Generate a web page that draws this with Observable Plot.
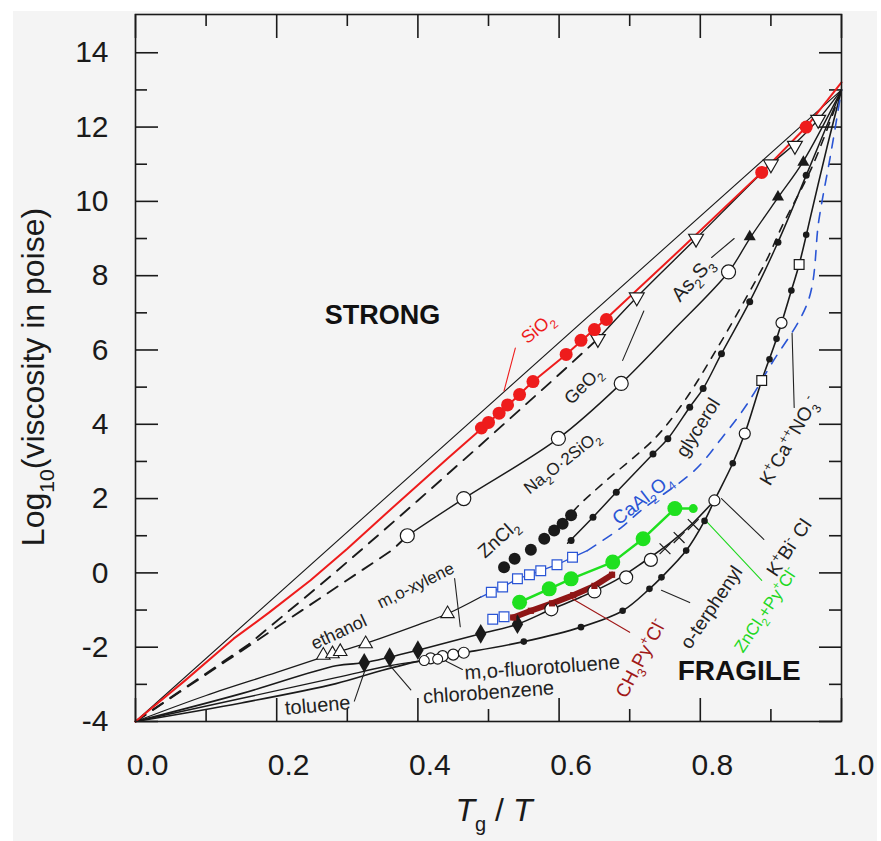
<!DOCTYPE html>
<html><head><meta charset="utf-8">
<script src="https://cdn.jsdelivr.net/npm/d3@7"></script>
<script src="https://cdn.jsdelivr.net/npm/@observablehq/plot@0.6"></script>
<style>
body{margin:0;background:#fff;}
#wrap{position:relative;width:881px;height:841px;overflow:hidden;}
#bg{position:absolute;left:13px;top:11px;width:864px;height:830px;background:#f4f4f4;}
#chart{position:absolute;left:0;top:0;}
</style></head><body>
<div id="wrap"><div id="bg"></div><div id="chart"></div></div>
<script>
// ---- axis ticks ----
const xMajor = [0, 0.2, 0.4, 0.6, 0.8, 1.0];
const xMinor = [0.1, 0.3, 0.5, 0.7, 0.9];
const yMajor = [-4, -2, 0, 2, 4, 6, 8, 10, 12, 14];
const yMinor = [-3, -1, 1, 3, 5, 7, 9, 11, 13];

// ---- series (Tg/T, log10 viscosity) ----
const arrhenius = [[0,-4],[1,13]];
const sio2Line = [[0,-4],[0.07,-2.9],[0.139,-1.77],[0.189,-1.07],[0.248,-0.2],[0.3,0.65],[0.355,1.6],[0.442,3.08],[0.49,3.88],[0.527,4.5],[0.563,5.15],[0.61,5.88],[0.667,6.85],[0.78,8.85],[0.887,10.78],[0.95,12.0],[1,13.2]];
const sio2Pts = [[0.49,3.9],[0.50,4.05],[0.515,4.3],[0.527,4.52],[0.544,4.8],[0.563,5.15],[0.61,5.88],[0.631,6.26],[0.65,6.55],[0.667,6.82],[0.887,10.78],[0.95,12.0]];
const geo2Dash = [[0,-4],[0.16,-1.93],[0.282,0.0],[0.355,1.2],[0.4,1.95],[0.485,3.38],[0.593,5.22],[0.655,6.3]];
const geo2Line = [[0.655,6.3],[0.71,7.42],[0.794,9.0],[0.9,11.0],[0.934,11.55],[0.967,12.2],[1,13]];
const geo2Pts = [[0.655,6.3],[0.71,7.42],[0.794,9.0],[0.9,11.0],[0.934,11.5],[0.967,12.2]];
const na2oDash = [[0,-4],[0.128,-2.38],[0.282,-0.42],[0.364,0.62],[0.385,1.0]];
const na2oLine = [[0.385,1.0],[0.465,2.0],[0.599,3.62],[0.688,5.1],[0.76,6.5],[0.84,8.1],[0.87,9.0],[0.91,10.1],[0.945,11.05],[1,13]];
const na2oPts = [[0.385,1.0],[0.465,2.0],[0.599,3.62],[0.688,5.1],[0.84,8.1]];
const as2s3Pts = [[0.87,9.05],[0.91,10.12],[0.946,11.05]];
const zncl2Pts = [[0.522,0.15],[0.537,0.38],[0.56,0.62],[0.579,0.92],[0.593,1.14],[0.605,1.32],[0.617,1.55]];
const zncl2Dash = [[0.605,1.32],[0.627,1.8],[0.664,2.44],[0.737,3.65],[0.778,4.64],[0.825,6.08],[0.868,7.51],[0.896,8.5],[0.915,9.3],[0.96,11.0],[1,13]];
const glycLine = [[0.612,0.8],[0.648,1.5],[0.681,2.17],[0.733,3.2],[0.754,3.61],[0.785,4.46],[0.804,4.96],[0.83,5.9],[0.87,7.3],[0.91,8.9],[0.95,10.7],[1,13]];
const glycPts = [[0.617,0.87],[0.648,1.5],[0.681,2.17],[0.733,3.2],[0.754,3.61],[0.785,4.46],[0.804,4.96],[0.83,5.9],[0.87,7.3],[0.91,8.9],[0.95,10.7]];
const caal2o4Dash = [[0.64,0.6],[0.688,1.22],[0.716,1.68],[0.792,2.76],[0.83,3.62],[0.863,4.45],[0.9,5.6],[0.953,7.33],[0.968,9.5],[0.985,11.3],[1,13]];
const ethLine = [[0,-4],[0.1,-3.3],[0.2,-2.68],[0.279,-2.18],[0.326,-1.9],[0.4,-1.4],[0.442,-1.1],[0.489,-0.65]];
const ethPts = [[0.266,-2.22],[0.279,-2.18],[0.29,-2.12],[0.326,-1.91],[0.442,-1.1]];
const blueSqLine = [[0.489,-0.65],[0.504,-0.52],[0.52,-0.38],[0.541,-0.16],[0.558,-0.05],[0.574,0.06],[0.597,0.22],[0.619,0.42],[0.64,0.6]];
const blueSqPts = [[0.504,-0.52],[0.52,-0.38],[0.541,-0.16],[0.558,-0.05],[0.574,0.06],[0.597,0.22],[0.619,0.42]];
const blueSq2 = [[0.506,-1.25],[0.522,-1.18]];
const tolLine = [[0,-4],[0.15,-3.25],[0.284,-2.5],[0.324,-2.42],[0.36,-2.27],[0.4,-2.08],[0.489,-1.64],[0.541,-1.38],[0.589,-0.98],[0.631,-0.65],[0.68,-0.2],[0.72,0.3],[0.76,0.85],[0.79,1.35],[0.82,1.95]];
const tolPts = [[0.324,-2.42],[0.36,-2.27],[0.4,-2.08],[0.489,-1.64],[0.541,-1.38]];
const otpOpen = [[0.589,-0.98],[0.65,-0.5],[0.695,-0.12],[0.73,0.35]];
const otpX = [[0.75,0.65],[0.77,0.95],[0.79,1.3]];
const chlLine = [[0,-4],[0.284,-2.82],[0.36,-2.5],[0.409,-2.36],[0.43,-2.3]];
const chlPts = [[0.409,-2.36],[0.428,-2.32]];
const lowLine = [[0,-4],[0.15,-3.5],[0.284,-2.98],[0.35,-2.62],[0.418,-2.3],[0.465,-2.15],[0.55,-1.85],[0.631,-1.46],[0.69,-1.02],[0.728,-0.43],[0.745,-0.12],[0.78,0.6],[0.806,1.4],[0.82,1.95],[0.846,2.95],[0.863,3.75],[0.887,5.18],[0.908,6.3],[0.929,7.6],[0.94,8.3],[0.96,9.9],[0.98,11.5],[1,13]];
const lowDots = [[0.55,-1.85],[0.631,-1.46],[0.69,-1.02],[0.728,-0.43],[0.745,-0.12],[0.78,0.6],[0.806,1.4],[0.846,2.95],[0.898,5.75],[0.908,6.3],[0.929,7.6],[0.95,9.1]];
const lowOpenC = [[0.418,-2.3],[0.435,-2.24],[0.45,-2.2],[0.465,-2.15],[0.82,1.95],[0.863,3.75],[0.915,6.73]];
const lowOpenSq = [[0.887,5.18],[0.94,8.3]];
const greenLine = [[0.544,-0.79],[0.586,-0.43],[0.617,-0.16],[0.676,0.29],[0.719,0.92],[0.764,1.73],[0.79,1.73]];
const greenPts = [[0.544,-0.79],[0.586,-0.43],[0.617,-0.16],[0.676,0.29],[0.719,0.92],[0.764,1.73]];
const greenSmall = [[0.79,1.73]];
const brownLine = [[0.535,-1.2],[0.56,-1.02],[0.59,-0.82],[0.62,-0.6],[0.65,-0.35],[0.675,-0.05]];

// ---- annotations ----
const labels = [
  {t:"SiO{_2}", x:0.570, y:6.58, r:-40, c:"#ee1c1c", s:18},
  {t:"GeO{_2}", x:0.634, y:5.04, r:-45, c:"#222", s:18},
  {t:"As{_2}S{_3}", x:0.789, y:7.9, r:-48, c:"#222", s:20},
  {t:"Na{_2}O·2SiO{_2}", x:0.604, y:2.97, r:-38, c:"#222", s:17},
  {t:"glycerol", x:0.797, y:3.91, r:-58, c:"#222", s:19},
  {t:"CaAl{_2}O{_4}", x:0.718, y:1.98, r:-38, c:"#2a55d5", s:19},
  {t:"ZnCl{_2}", x:0.514, y:0.92, r:-42, c:"#222", s:19},
  {t:"m,o-xylene", x:0.397, y:-0.34, r:-26, c:"#222", s:17},
  {t:"ethanol", x:0.288, y:-1.6, r:-25, c:"#222", s:18},
  {t:"toluene", x:0.258, y:-3.57, r:-5, c:"#222", s:20},
  {t:"chlorobenzene", x:0.5, y:-3.22, r:-4, c:"#222", s:20},
  {t:"m,o-fluorotoluene", x:0.576, y:-2.55, r:-4, c:"#222", s:20},
  {t:"CH{_3}Py{^+}Cl{^-}", x:0.716, y:-2.3, r:-62, c:"#a01818", s:19},
  {t:"o-terphenyl", x:0.816, y:-0.93, r:-56, c:"#222", s:19},
  {t:"ZnCl{_2}+Py{^+}Cl{^-}", x:0.893, y:-1.0, r:-56, c:"#1fd81f", s:17},
  {t:"K{^+}Bi{^-} Cl", x:0.926, y:0.68, r:-56, c:"#222", s:19},
  {t:"K{^+}Ca{^++}NO{_3}{^-}", x:0.926, y:3.55, r:-60, c:"#222", s:19}
];
const bigLabels = [
  {t:"STRONG", x:0.350, y:6.93, s:27},
  {t:"FRAGILE", x:0.855, y:-2.65, s:28}
];
const arrows = [
  {x1:0.538,y1:6.05,x2:0.522,y2:4.9,bend:-25,c:"#ee1c1c"},
  {x1:0.69,y1:5.72,x2:0.72,y2:7.05,bend:-20,c:"#222"},
  {x1:0.816,y1:8.49,x2:0.848,y2:9.0,bend:0,c:"#222"},
  {x1:0.933,y1:4.45,x2:0.93,y2:6.45,bend:4,c:"#222"},
  {x1:0.89,y1:0.9,x2:0.83,y2:2.0,bend:-20,c:"#222"},
  {x1:0.785,y1:-0.8,x2:0.745,y2:-0.47,bend:-12,c:"#222"},
  {x1:0.887,y1:-0.2,x2:0.81,y2:1.36,bend:-25,c:"#1fd81f"},
  {x1:0.70,y1:-1.6,x2:0.612,y2:-0.62,bend:20,c:"#a01818"},
  {x1:0.452,y1:-0.15,x2:0.46,y2:-1.45,bend:-8,c:"#222"},
  {x1:0.31,y1:-3.45,x2:0.325,y2:-2.62,bend:-30,c:"#222"},
  {x1:0.39,y1:-3.15,x2:0.36,y2:-2.48,bend:30,c:"#222"},
  {x1:0.463,y1:-2.6,x2:0.44,y2:-2.38,bend:-20,c:"#222"}
];

const L = a => a.map(([x, y]) => ({x, y}));
const K = "#1a1a1a";
const RED = "#ee1c1c", BLUE = "#2a55d5", GREEN = "#1fe01f", BROWN = "#8e1616";
const FH = 707, FW = 706; // frame height / width in px

const chart = Plot.plot({
  width: 881, height: 841,
  marginLeft: 135, marginRight: 40, marginTop: 14, marginBottom: 120,
  x: {domain: [0, 1]},
  y: {domain: [-4, 15.03]},
  style: {background: "transparent", fontFamily: "'Liberation Sans', Arial, sans-serif", color: K, overflow: "visible"},
  marks: [
    // ticks (inward)
    Plot.ruleX(xMajor, {insetTop: FH - 23, stroke: K, strokeWidth: 1.6}),
    Plot.ruleX(xMinor, {insetTop: FH - 12, stroke: K, strokeWidth: 1.6}),
    Plot.ruleX(xMajor, {insetBottom: FH - 24, stroke: K, strokeWidth: 1.6}),
    Plot.ruleX(xMinor, {insetBottom: FH - 12, stroke: K, strokeWidth: 1.6}),
    Plot.ruleY(yMajor, {insetRight: FW - 23, stroke: K, strokeWidth: 1.6}),
    Plot.ruleY(yMinor, {insetRight: FW - 12, stroke: K, strokeWidth: 1.6}),
    Plot.ruleY(yMajor, {insetLeft: FW - 22, stroke: K, strokeWidth: 1.6}),
    Plot.ruleY(yMinor, {insetLeft: FW - 12, stroke: K, strokeWidth: 1.6}),
    Plot.axisX(xMajor, {tickSize: 0, tickPadding: 32, fontSize: 30, dx: 12, tickFormat: d => d.toFixed(1), label: null}),
    Plot.axisY(yMajor, {tickSize: 0, tickPadding: 27, fontSize: 30, tickFormat: d => String(d), label: null}),

    // lines
    Plot.line(L(arrhenius), {x: "x", y: "y", stroke: K, strokeWidth: 1.1}),
    Plot.line(L(lowLine), {x: "x", y: "y", stroke: K, strokeWidth: 1.6, curve: "catmull-rom"}),
    Plot.line(L(chlLine), {x: "x", y: "y", stroke: K, strokeWidth: 1.4, curve: "catmull-rom"}),
    Plot.line(L(tolLine), {x: "x", y: "y", stroke: K, strokeWidth: 1.6, curve: "catmull-rom"}),
    Plot.line(L(ethLine), {x: "x", y: "y", stroke: K, strokeWidth: 1.3, curve: "catmull-rom"}),
    Plot.line(L(blueSqLine), {x: "x", y: "y", stroke: BLUE, strokeWidth: 1.3}),
    Plot.line(L(caal2o4Dash), {x: "x", y: "y", stroke: BLUE, strokeWidth: 1.6, strokeDasharray: "10,9", curve: "catmull-rom"}),
    Plot.line(L(glycLine), {x: "x", y: "y", stroke: K, strokeWidth: 1.5, curve: "catmull-rom"}),
    Plot.line(L(zncl2Dash), {x: "x", y: "y", stroke: K, strokeWidth: 1.6, strokeDasharray: "8,8", curve: "catmull-rom"}),
    Plot.line(L(na2oDash), {x: "x", y: "y", stroke: K, strokeWidth: 1.9, strokeDasharray: "12,9"}),
    Plot.line(L(na2oLine), {x: "x", y: "y", stroke: K, strokeWidth: 1.4, curve: "catmull-rom"}),
    Plot.line(L(geo2Dash), {x: "x", y: "y", stroke: K, strokeWidth: 1.9, strokeDasharray: "12,9"}),
    Plot.line(L(geo2Line), {x: "x", y: "y", stroke: K, strokeWidth: 1.4, curve: "catmull-rom"}),
    Plot.line(L(sio2Line), {x: "x", y: "y", stroke: RED, strokeWidth: 2}),
    Plot.line(L(greenLine), {x: "x", y: "y", stroke: GREEN, strokeWidth: 2.5}),
    Plot.line(L(brownLine), {x: "x", y: "y", stroke: BROWN, strokeWidth: 6}),

    // arrows
    Plot.arrow(arrows, {x1: "x1", y1: "y1", x2: "x2", y2: "y2", bend: "bend", stroke: "c", strokeWidth: 1.1, headLength: 7}),

    // markers
    Plot.dot(L(lowDots), {x: "x", y: "y", r: 3.3, fill: K}),
    Plot.dot(L(lowOpenC), {x: "x", y: "y", r: 5.5, fill: "white", stroke: K, strokeWidth: 1.2}),
    Plot.dot(L(lowOpenSq), {x: "x", y: "y", symbol: "square", r: 5.5, fill: "white", stroke: K, strokeWidth: 1.2}),
    Plot.dot(L(chlPts), {x: "x", y: "y", r: 5, fill: "white", stroke: K, strokeWidth: 1.1}),
    Plot.dot(L(tolPts), {x: "x", y: "y", symbol: "diamond", r: 6, fill: K}),
    Plot.dot(L(otpOpen), {x: "x", y: "y", r: 6.5, fill: "white", stroke: K, strokeWidth: 1.2}),
    Plot.dot(L(otpX), {x: "x", y: "y", symbol: "times", r: 5, stroke: K, strokeWidth: 1.2}),
    Plot.dot(L(blueSq2), {x: "x", y: "y", symbol: "square", r: 5.5, fill: "white", stroke: BLUE, strokeWidth: 1.2}),
    Plot.dot(L(ethPts), {x: "x", y: "y", symbol: "triangle", r: 5, fill: "white", stroke: K, strokeWidth: 1.1}),
    Plot.dot(L(blueSqPts), {x: "x", y: "y", symbol: "square", r: 5.5, fill: "white", stroke: BLUE, strokeWidth: 1.2}),
    Plot.dot(L(brownLine), {x: "x", y: "y", symbol: "square", r: 3.5, fill: BROWN}),
    Plot.dot(L(greenPts), {x: "x", y: "y", r: 7.5, fill: GREEN}),
    Plot.dot(L(greenSmall), {x: "x", y: "y", r: 4.5, fill: GREEN}),
    Plot.dot(L(glycPts), {x: "x", y: "y", r: 3.5, fill: K}),
    Plot.dot(L(zncl2Pts), {x: "x", y: "y", r: 6, fill: K}),
    Plot.dot(L(na2oPts), {x: "x", y: "y", r: 7, fill: "white", stroke: K, strokeWidth: 1.2}),
    Plot.dot(L(as2s3Pts), {x: "x", y: "y", symbol: "triangle", r: 4.5, fill: K}),
    Plot.dot(L(geo2Pts), {x: "x", y: "y", symbol: "triangle", rotate: 180, r: 5.5, fill: "white", stroke: K, strokeWidth: 1.2}),
    Plot.dot(L(sio2Pts), {x: "x", y: "y", r: 6.5, fill: RED}),

    // labels
    Plot.text(labels, {x: "x", y: "y", text: "t", rotate: "r", fill: "c", fontSize: "s"}),
    Plot.text(bigLabels, {x: "x", y: "y", text: "t", fontSize: "s", fontWeight: "bold", fill: "#111"}),

    Plot.frame({stroke: K, strokeWidth: 1.6})
  ]
});
document.getElementById("chart").append(chart);

// rich text: {_x} subscript, {^x} superscript
const NS = "http://www.w3.org/2000/svg";
function rich(el) {
  const t = el.textContent;
  if (!/\{[_^]/.test(t)) return;
  const fs = parseFloat(getComputedStyle(el).fontSize) || 16;
  while (el.firstChild) el.removeChild(el.firstChild);
  let cur = 0;
  t.split(/(\{[_^][^}]*\})/).forEach(p => {
    if (!p) return;
    const m = p.match(/^\{([_^])(.*)\}$/);
    const ts = document.createElementNS(NS, "tspan");
    let target = 0, txt = p;
    if (m) {
      target = m[1] === "_" ? 0.3 * fs : -0.42 * fs;
      txt = m[2];
      ts.setAttribute("font-size", (0.66 * fs) + "px");
    }
    const d = target - cur;
    if (d) ts.setAttribute("dy", d);
    cur = target;
    ts.textContent = txt;
    el.appendChild(ts);
  });
}
d3.select(chart).selectAll("text").each(function() { rich(this); });

// axis titles
const svg = d3.select(chart);
const yt = svg.append("text")
  .attr("transform", "translate(44,377) rotate(-90)")
  .attr("text-anchor", "middle")
  .attr("font-size", 32)
  .attr("fill", K)
  .text("Log{_10}(viscosity in poise)");
rich(yt.node());

const xt = svg.append("text")
  .attr("x", 494).attr("y", 821)
  .attr("text-anchor", "middle")
  .attr("font-size", 32)
  .attr("fill", K);
xt.append("tspan").attr("font-style", "italic").text("T");
xt.append("tspan").attr("font-size", 20).attr("dy", 10).text("g");
xt.append("tspan").attr("dy", -10).text(" / ");
xt.append("tspan").attr("font-style", "italic").text("T");
</script></body></html>
